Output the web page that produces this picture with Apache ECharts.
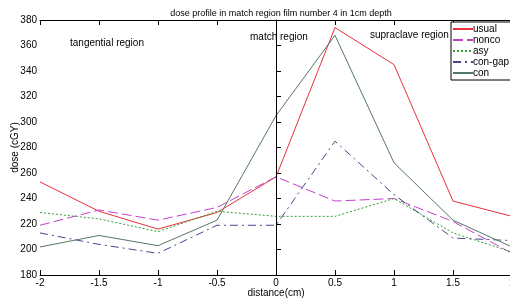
<!DOCTYPE html>
<html>
<head>
<meta charset="utf-8">
<script src="https://cdn.jsdelivr.net/npm/echarts@6/dist/echarts.min.js"></script>
<style>
  html, body { margin: 0; padding: 0; background: #fff; }
  #main { width: 510px; height: 303px; }
</style>
</head>
<body>
<div id="main"></div>
<script>
// distance (cm)
var distance = [-2, -1.5, -1, -0.5, 0, 0.5, 1, 1.5, 2];
var usual  = [253, 230, 216, 229, 257, 374, 345, 238, 226];
var nonco  = [219, 231, 223, 233, 257, 238, 240, 222, 197];
var asy    = [229, 224, 214, 230, 226, 226, 240, 213, 198];
var conGap = [213, 204, 197, 219, 219, 285, 243, 209, 207];
var con    = [202, 211, 203, 223, 305, 368, 268, 223, 202];

function pairs(vals) {
  return distance.map(function (d, i) { return [d, vals[i]]; });
}

var font = 'Liberation Sans';
var myChart = echarts.init(document.getElementById('main'));

function mkSeries(name, vals, color, type) {
  return {
    name: name,
    type: 'line',
    symbol: 'none',
    lineStyle: { color: color, width: 1, type: type },
    itemStyle: { color: color },
    data: pairs(vals),
    animation: false
  };
}

var series = [
  mkSeries('usual', usual, '#e8303c', 'solid'),
  mkSeries('nonco', nonco, '#c040c8', [10, 4]),
  mkSeries('asy', asy, '#30a030', [2, 2]),
  mkSeries('con-gap', conGap, '#45458f', [8, 4, 2, 4]),
  mkSeries('con', con, '#557766', 'solid')
];
// vertical line at the match point
series[0].markLine = {
  silent: true,
  symbol: 'none',
  label: { show: false },
  lineStyle: { color: '#000', width: 1, type: 'solid' },
  data: [{ xAxis: 0 }]
};

var option = {
  animation: false,
  title: {
    text: 'dose profile in match region film number 4 in 1cm depth',
    left: 276, top: 4, textAlign: 'center',
    textStyle: { fontFamily: font, fontSize: 9, fontWeight: 'normal', color: '#000' }
  },
  grid: { left: 40, right: -2, top: 20, bottom: 28, outerBoundsMode: 'none', containLabel: false },
  legend: {
    orient: 'vertical',
    left: 451, top: 22,
    padding: [2, 30, 2, 1],
    itemWidth: 20, itemHeight: 8, itemGap: 1,
    itemStyle: { opacity: 0 },
    backgroundColor: '#fff',
    borderColor: '#000', borderWidth: 1,
    textStyle: { fontFamily: font, fontSize: 10, color: '#000', padding: [0, 0, 0, -5] },
    data: ['usual', 'nonco', 'asy', 'con-gap', 'con']
  },
  xAxis: [{
    type: 'value', min: -2, max: 2, interval: 0.5,
    name: 'distance(cm)', nameLocation: 'middle', nameGap: 13, nameMoveOverlap: false,
    nameTextStyle: { fontFamily: font, fontSize: 10, color: '#000' },
    axisLine: { onZero: false, lineStyle: { color: '#000' } },
    axisTick: { inside: true, length: 5, lineStyle: { color: '#000' } },
    axisLabel: { fontFamily: font, fontSize: 10, color: '#000', margin: 3 },
    splitLine: { show: false }
  }, {
    type: 'value', min: -2, max: 2, interval: 0.5, position: 'top',
    axisLine: { lineStyle: { color: '#000' } },
    axisTick: { inside: true, length: 5, lineStyle: { color: '#000' } },
    axisLabel: { show: false },
    splitLine: { show: false }
  }],
  yAxis: {
    type: 'value', min: 180, max: 380, interval: 20,
    name: 'dose (cGY)', nameLocation: 'middle', nameGap: 20, nameMoveOverlap: false,
    nameTextStyle: { fontFamily: font, fontSize: 10, color: '#000' },
    axisLine: { show: true, lineStyle: { color: '#000' } },
    axisTick: { inside: true, length: 5, lineStyle: { color: '#000' } },
    axisLabel: { fontFamily: font, fontSize: 10, color: '#000', margin: 3 },
    splitLine: { show: false }
  },
  graphic: [
    { type: 'text', left: 70, top: 38, style: { text: 'tangential region', fontFamily: font, fontSize: 10, fill: '#000' } },
    { type: 'text', left: 250, top: 32, style: { text: 'match region', fontFamily: font, fontSize: 10, fill: '#000' } },
    { type: 'text', left: 370, top: 30, style: { text: 'supraclave region', fontFamily: font, fontSize: 10, fill: '#000' } }
  ],
  series: series
};
myChart.setOption(option);
</script>
</body>
</html>
